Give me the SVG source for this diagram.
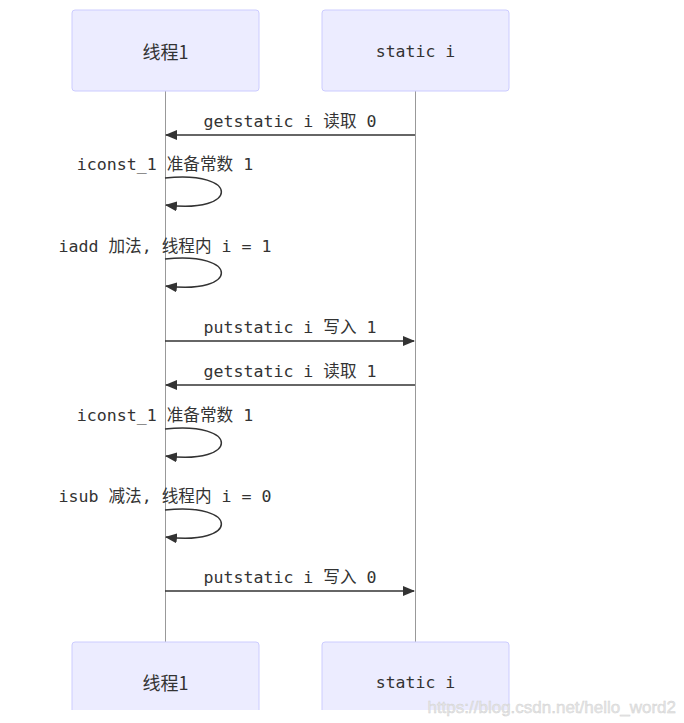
<svg xmlns="http://www.w3.org/2000/svg" width="684" height="723" viewBox="0 0 684 723">
<style>
.actor{fill:#ECECFF;stroke:#CCCCFF;stroke-width:1}
.atext{font-size:16.5px;fill:#333;text-anchor:middle;dominant-baseline:central}
.cjk{font-family:"Noto Sans CJK SC","Noto Sans",sans-serif;font-size:18px}
.mono{font-family:"DejaVu Sans Mono","Noto Sans CJK SC",monospace}
.life{stroke:#999;stroke-width:1}
.msg{stroke:#333;stroke-width:1.5;fill:none}
.mtext{font-family:"DejaVu Sans Mono","Noto Sans CJK SC",monospace;font-size:16.6px;fill:#333;text-anchor:middle}
</style>
<defs>
<marker id="arrow" viewBox="0 0 12 10" refX="11" refY="5" markerWidth="12" markerHeight="10" markerUnits="userSpaceOnUse" orient="auto">
<path d="M0,0 L12,5 L0,10 z" fill="#333"/>
</marker>
<clipPath id="clipb"><rect x="0" y="0" width="684" height="710"/></clipPath>
</defs>
<rect width="684" height="723" fill="#fff"/>
<g id="lifelines">
<line class="life" x1="165.5" y1="91" x2="165.5" y2="642"/>
<line class="life" x1="415.5" y1="91" x2="415.5" y2="642"/>
</g>
<g id="actor-thread-top"><rect class="actor" x="72" y="10" width="187" height="81" rx="3"/><text class="atext cjk" x="165.5" y="51">线程1</text></g>
<g id="actor-static-top"><rect class="actor" x="322" y="10" width="187" height="81" rx="3"/><text class="atext mono" x="415.5" y="51">static i</text></g>
<g clip-path="url(#clipb)">
<g id="actor-thread-bottom"><rect class="actor" x="72" y="642" width="187" height="81" rx="3"/><text class="atext cjk" x="165.5" y="682">线程1</text></g>
<g id="actor-static-bottom"><rect class="actor" x="322" y="642" width="187" height="81" rx="3"/><text class="atext mono" x="415.5" y="682">static i</text></g>
</g>
<g id="connectors">
<line class="msg" x1="415" y1="135" x2="166" y2="135" marker-end="url(#arrow)"/>
<path class="msg" d="M165,178 C240,170 240,214 166,205" marker-end="url(#arrow)"/>
<path class="msg" d="M165,259 C240,251 240,295 166,286" marker-end="url(#arrow)"/>
<line class="msg" x1="165" y1="341" x2="414" y2="341" marker-end="url(#arrow)"/>
<line class="msg" x1="415" y1="385" x2="166" y2="385" marker-end="url(#arrow)"/>
<path class="msg" d="M165,429 C240,421 240,465 166,456" marker-end="url(#arrow)"/>
<path class="msg" d="M165,510 C240,502 240,546 166,537" marker-end="url(#arrow)"/>
<line class="msg" x1="165" y1="591" x2="414" y2="591" marker-end="url(#arrow)"/>
</g>
<g id="labels">
<text class="mtext" x="290" y="127">getstatic i 读取 0</text>
<text class="mtext" x="165" y="170">iconst_1 准备常数 1</text>
<text class="mtext" x="165" y="252">iadd 加法, 线程内 i = 1</text>
<text class="mtext" x="290" y="333">putstatic i 写入 1</text>
<text class="mtext" x="290" y="377">getstatic i 读取 1</text>
<text class="mtext" x="165" y="421">iconst_1 准备常数 1</text>
<text class="mtext" x="165" y="502">isub 减法, 线程内 i = 0</text>
<text class="mtext" x="290" y="583">putstatic i 写入 0</text>
</g>
<text x="676" y="713" font-family="Liberation Sans, Arial, sans-serif" font-size="17" fill="#e6e6e6" stroke="#d0d0d0" stroke-width="0.4" text-anchor="end">https://blog.csdn.net/hello_word2</text>
</svg>
